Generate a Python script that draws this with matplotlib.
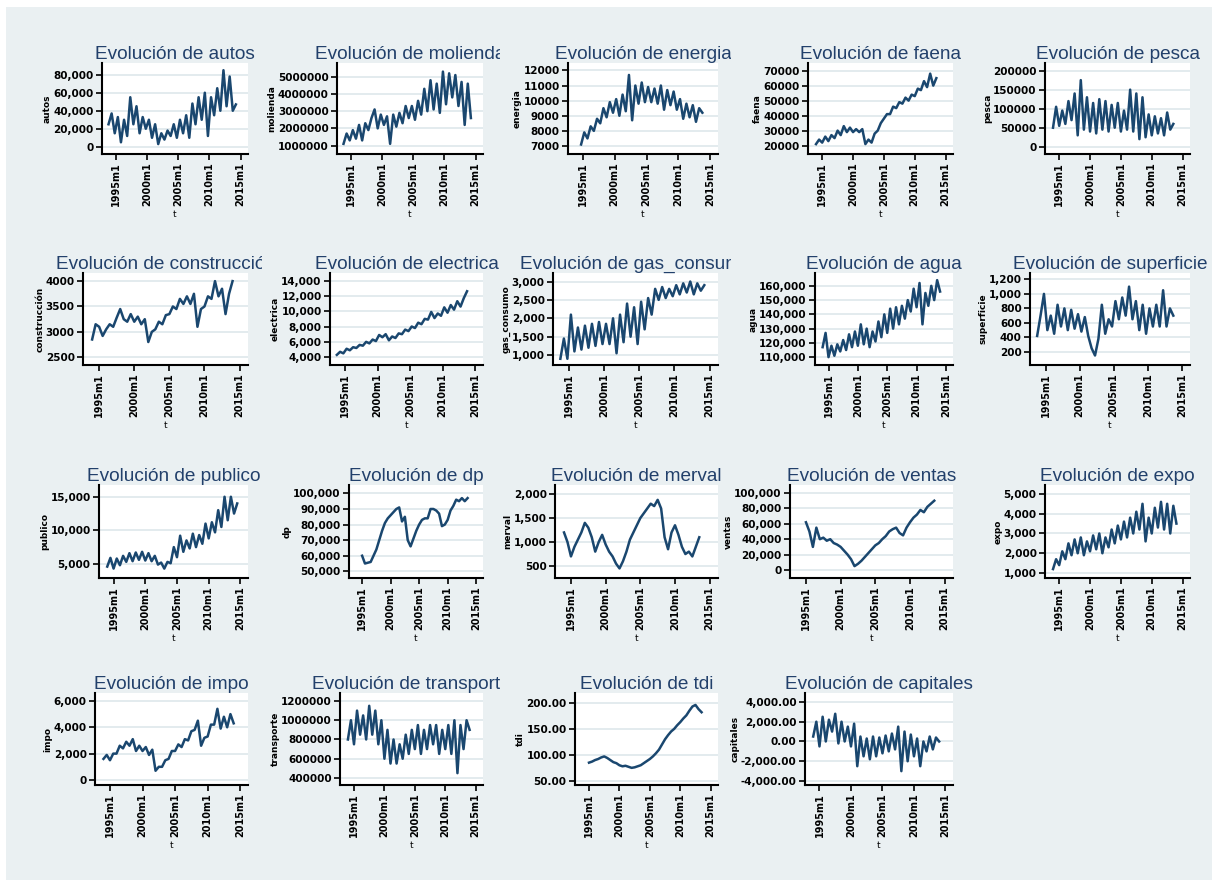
import numpy as np
import matplotlib
matplotlib.use("Agg")
import matplotlib.pyplot as plt
from matplotlib.patches import Rectangle
from matplotlib.transforms import Bbox, TransformedBbox
from matplotlib.ticker import FuncFormatter

# ---- data (two readings per year) ----
x_ticks = [1995, 2000, 2005, 2010, 2015]
x_tick_labels = ["1995m1", "2000m1", "2005m1", "2010m1", "2015m1"]

autos_start = 1993.75
autos = [25000, 37000, 15000, 33000, 5000, 30000, 12000, 55000, 25000, 45000, 15000, 33000,
         20000, 30000, 10000, 25000, 3000, 15000, 8000, 18000, 12000, 25000, 10000, 30000,
         15000, 35000, 10000, 48000, 25000, 55000, 30000, 60000, 12000, 55000, 35000, 65000,
         40000, 85000, 45000, 78000, 40000, 47000]

molienda_start = 1993.75
molienda = [1.1e6, 1.7e6, 1.3e6, 1.9e6, 1.4e6, 2.2e6, 1.3e6, 2.3e6, 1.9e6, 2.6e6, 3.1e6, 2.0e6,
            2.8e6, 2.2e6, 2.7e6, 1.1e6, 2.8e6, 2.1e6, 2.9e6, 2.3e6, 3.3e6, 2.6e6, 3.3e6, 2.5e6,
            3.6e6, 2.8e6, 4.3e6, 3.0e6, 4.8e6, 3.1e6, 4.6e6, 2.9e6, 5.3e6, 3.4e6, 5.2e6, 3.8e6,
            5.1e6, 3.3e6, 4.7e6, 2.2e6, 4.6e6, 2.6e6]

energia_start = 1994.75
energia = [7100, 7900, 7500, 8300, 8000, 8800, 8500, 9500, 8900, 9900, 9200, 10100, 9000,
           10400, 9300, 11700, 8700, 11000, 9800, 11200, 9900, 10900, 9900, 10800, 9800, 11000,
           9400, 10700, 9700, 10600, 9400, 10100, 8800, 9800, 8900, 9700, 8600, 9500, 9200]

faena_start = 1994.0
faena = [21000, 24000, 22000, 26000, 23000, 27000, 25000, 30000, 27000, 33000, 29000, 32000,
         29000, 31000, 29000, 31000, 21000, 24000, 22000, 28000, 30000, 35000, 38000, 41000,
         41000, 46000, 45000, 49000, 48000, 52000, 50000, 54000, 53000, 58000, 57000, 63000,
         59000, 68000, 60000, 65000]

pesca_start = 1994.0
pesca = [50000, 105000, 55000, 95000, 60000, 120000, 70000, 140000, 30000, 175000, 45000,
         130000, 40000, 115000, 35000, 125000, 45000, 120000, 40000, 110000, 50000, 115000,
         40000, 95000, 45000, 150000, 40000, 140000, 20000, 130000, 25000, 85000, 30000, 80000,
         35000, 75000, 30000, 90000, 45000, 60000]

construccion_start = 1994.0
construccion = [2850, 3150, 3100, 2920, 3050, 3150, 3100, 3280, 3450, 3250, 3200, 3350, 3200,
                3300, 3150, 3250, 2800, 3000, 3050, 3200, 3150, 3330, 3350, 3500, 3450, 3650,
                3550, 3700, 3550, 3750, 3100, 3450, 3500, 3700, 3650, 4000, 3700, 3850, 3350,
                3750, 4000]

electrica_start = 1993.75
electrica = [4300, 4700, 4500, 5100, 4900, 5300, 5200, 5600, 5500, 6000, 5800, 6300, 6100,
             6900, 6600, 7000, 6200, 6700, 6500, 7100, 7000, 7600, 7400, 8000, 7800, 8500,
             8300, 9000, 8900, 9900, 9100, 9700, 9400, 10500, 9800, 10800, 10200, 11300,
             10600, 11700, 12600]

gas_start = 1993.75
gas_consumo = [900, 1450, 900, 2100, 1100, 1750, 1150, 1800, 1200, 1850, 1250, 1900, 1300,
               1850, 1300, 2000, 1050, 2100, 1350, 2400, 1500, 2300, 1300, 2450, 1700, 2550,
               2100, 2800, 2500, 2850, 2550, 2800, 2600, 2900, 2650, 2950, 2700, 3000, 2650,
               2950, 2750, 2900]

agua_start = 1994.0
agua = [117000, 127000, 110000, 118000, 111000, 119000, 114000, 122000, 115000, 126000,
        117000, 128000, 118000, 133000, 119000, 130000, 117000, 128000, 121000, 135000,
        124000, 140000, 127000, 144000, 130000, 145000, 133000, 146000, 137000, 150000,
        142000, 158000, 145000, 162000, 133000, 155000, 146000, 160000, 150000, 164000, 156000]

superficie_start = 1993.75
superficie = [420, 700, 1000, 500, 700, 450, 850, 550, 800, 500, 780, 520, 720, 480, 680, 420,
              250, 150, 380, 850, 450, 650, 550, 900, 650, 950, 700, 1100, 650, 900, 500, 850,
              450, 800, 550, 850, 550, 1050, 550, 800, 700]

publico_start = 1994.0
publico = [4600, 5900, 4300, 5800, 4800, 6200, 5300, 6600, 5400, 6700, 5600, 6800, 5500, 6600,
           5400, 6200, 4900, 5200, 4300, 5300, 5100, 7500, 6000, 9200, 6800, 8500, 7300, 9500,
           7500, 9300, 8000, 11000, 8800, 11200, 9700, 13000, 10500, 15000, 11500, 15000,
           12500, 14000]

dp_start = 1995.0
dp = [60000, 55000, 55500, 56000, 60000, 64000, 70000, 76000, 81000, 84000, 86000, 88000,
      90000, 91000, 82000, 85000, 70000, 66000, 71000, 76000, 80000, 83000, 84000, 84000,
      90000, 90000, 89000, 87000, 79000, 80000, 83000, 89000, 92000, 96000, 95000, 97000,
      95000, 97000]

merval_start = 1994.0
merval = [1200, 1000, 700, 900, 1050, 1200, 1400, 1300, 1100, 800, 1000, 1150, 950, 800, 700,
          550, 450, 600, 800, 1050, 1200, 1350, 1500, 1600, 1700, 1800, 1750, 1880, 1700, 1100,
          850, 1200, 1350, 1150, 900, 750, 800, 700, 900, 1100]

ventas_start = 1995.0
ventas = [62000, 50000, 30000, 55000, 40000, 42000, 38000, 40000, 35000, 33000, 30000, 25000,
          20000, 14000, 5000, 8000, 12000, 17000, 22000, 27000, 32000, 35000, 40000, 44000,
          50000, 53000, 55000, 48000, 45000, 55000, 62000, 68000, 72000, 78000, 75000, 82000,
          86000, 90000]

expo_start = 1994.0
expo = [1200, 1700, 1400, 2100, 1700, 2500, 1900, 2700, 2000, 2800, 1900, 2600, 2100, 2900,
        2200, 3000, 2000, 2800, 2300, 3200, 2500, 3400, 2700, 3600, 2800, 3800, 3000, 4100,
        3200, 4500, 2600, 3800, 3000, 4300, 3300, 4600, 3200, 4500, 3000, 4400, 3500]

impo_start = 1994.0
impo = [1600, 1900, 1500, 2000, 2000, 2600, 2400, 2900, 2600, 3100, 2200, 2600, 2200, 2500,
        1900, 2300, 700, 1000, 1000, 1500, 1600, 2200, 2200, 2700, 2500, 3100, 3000, 3700,
        3800, 4500, 2600, 3200, 3300, 4200, 4200, 5400, 3900, 4800, 4000, 5000, 4300]

transporte_start = 1994.0
transporte = [800000, 1000000, 750000, 1100000, 850000, 1050000, 800000, 1150000, 850000,
              1100000, 750000, 1000000, 600000, 900000, 550000, 800000, 550000, 750000, 600000,
              850000, 650000, 900000, 700000, 950000, 650000, 900000, 700000, 950000, 750000,
              950000, 650000, 900000, 700000, 950000, 650000, 1000000, 450000, 950000, 700000,
              1000000, 900000]

tdi_start = 1995.0
tdi = [85, 87, 90, 92, 95, 97, 94, 90, 86, 84, 80, 78, 79, 77, 75, 76, 78, 80, 84, 88, 92, 97,
       103, 110, 120, 130, 138, 145, 150, 157, 163, 170, 176, 185, 193, 196, 188, 182]

capitales_start = 1994.0
capitales = [500, 2000, -500, 2500, 0, 2200, 1000, 2800, -200, 2000, 0, 1500, -500, 1800,
             -2500, 500, -1500, 300, -1800, 500, -1500, 400, -1200, 600, -1000, 800, -800, 1500,
             -3000, 1000, -2000, 700, -1500, 300, -2500, 0, -1000, 500, -800, 400, 0]

# ---- panels: name, ylabel, start, values, yticks, format ----
panels = [
    ("autos", "autos", autos_start, autos, [0, 20000, 40000, 60000, 80000], "comma"),
    ("molienda", "molienda", molienda_start, molienda, [1e6, 2e6, 3e6, 4e6, 5e6], "plain"),
    ("energia", "energia", energia_start, energia, [7000, 8000, 9000, 10000, 11000, 12000], "plain"),
    ("faena", "faena", faena_start, faena, [20000, 30000, 40000, 50000, 60000, 70000], "plain"),
    ("pesca", "pesca", pesca_start, pesca, [0, 50000, 100000, 150000, 200000], "plain"),
    ("construcción", "construcción", construccion_start, construccion, [2500, 3000, 3500, 4000], "plain"),
    ("electrica", "electrica", electrica_start, electrica, [4000, 6000, 8000, 10000, 12000, 14000], "comma"),
    ("gas_consumo", "gas_consumo", gas_start, gas_consumo, [1000, 1500, 2000, 2500, 3000], "comma"),
    ("agua", "agua", agua_start, agua, [110000, 120000, 130000, 140000, 150000, 160000], "comma"),
    ("superficie", "superficie", superficie_start, superficie, [200, 400, 600, 800, 1000, 1200], "comma"),
    ("publico", "publico", publico_start, publico, [5000, 10000, 15000], "comma"),
    ("dp", "dp", dp_start, dp, [50000, 60000, 70000, 80000, 90000, 100000], "comma"),
    ("merval", "merval", merval_start, merval, [500, 1000, 1500, 2000], "comma"),
    ("ventas", "ventas", ventas_start, ventas, [0, 20000, 40000, 60000, 80000, 100000], "comma"),
    ("expo", "expo", expo_start, expo, [1000, 2000, 3000, 4000, 5000], "comma"),
    ("impo", "impo", impo_start, impo, [0, 2000, 4000, 6000], "comma"),
    ("transporte", "transporte", transporte_start, transporte, [400000, 600000, 800000, 1000000, 1200000], "plain"),
    ("tdi", "tdi", tdi_start, tdi, [50, 100, 150, 200], "dec2"),
    ("capitales", "capitales", capitales_start, capitales, [-4000, -2000, 0, 2000, 4000], "comma2"),
]

# ---- layout (pixels): plot box left, right per panel, y limits ----
W, H = 1218, 888
row_y = [(63, 154), (273, 365), (485, 578), (693, 785)]
boxes_x = [(102, 248), (337, 483), (568, 718), (808, 953), (1045, 1190),
           (83, 248), (330, 483), (553, 718), (815, 953), (1030, 1190),
           (99, 248), (349, 483), (555, 718), (790, 953), (1045, 1190),
           (95, 248), (340, 483), (575, 718), (805, 953)]
ylims = [(-8000, 93000), (0.51e6, 5.8e6), (6470, 12490), (14400, 75100), (-19000, 220000),
         (2347, 4160), (2980, 14980), (731, 3231), (104500, 169000), (19, 1288),
         (2900, 16750), (45700, 105400), (250, 2190), (-10400, 110400), (750, 5450),
         (-380, 6600), (327000, 1283000), (42, 219), (-4400, 4900)]
title_clip = [262, 500, 731, 985, 1212]

NAVY = '#1a476f'
BG = '#eaf0f2'
GRID = '#e3ebee'

fmts = {
    "comma": lambda v, p: f"{v:,.0f}",
    "plain": lambda v, p: f"{v:.0f}",
    "dec2": lambda v, p: f"{v:.2f}",
    "comma2": lambda v, p: f"{v:,.2f}",
}

plt.rcParams['font.family'] = ['DejaVu Sans']
fig = plt.figure(figsize=(W / 100, H / 100), dpi=100, facecolor='white')
fig.patches.append(Rectangle((6 / W, 8 / H), (1212 - 6) / W, (880 - 7) / H,
                             transform=fig.transFigure, facecolor=BG, edgecolor='none', zorder=-5))

for i, (name, ylab, start, vals, yt, fmt) in enumerate(panels):
    row, col = divmod(i, 5)
    top, bot = row_y[row]
    left, right = boxes_x[i]
    ax = fig.add_axes([left / W, (H - bot) / H, (right - left) / W, (bot - top) / H])
    ax.set_facecolor('white')
    t = start + 0.5 * np.arange(len(vals))
    ax.plot(t, vals, color=NAVY, lw=1.8)
    ax.set_xlim(1992.7, 2016.2)
    ax.set_ylim(*ylims[i])
    ax.set_xticks(x_ticks)
    ax.set_xticklabels(x_tick_labels, rotation=90, fontsize=7, fontweight='bold')
    ax.set_yticks(yt)
    ax.yaxis.set_major_formatter(FuncFormatter(fmts[fmt]))
    for lab in ax.get_yticklabels():
        lab.set_fontweight('bold')
    ax.tick_params(axis='x', direction='out', length=4, width=1.2, labelsize=7, pad=2)
    ax.tick_params(axis='y', direction='out', length=4, width=1.2, labelsize=7.5, pad=2)
    ax.yaxis.grid(True, color=GRID, lw=1.4)
    ax.set_axisbelow(True)
    for s in ['top', 'right']:
        ax.spines[s].set_visible(False)
    for s in ['left', 'bottom']:
        ax.spines[s].set_linewidth(1.5)
    ax.set_ylabel(ylab, fontsize=6.5, fontweight='bold', labelpad=1)
    ax.set_xlabel("t", fontsize=6.5, labelpad=3)
    title = ax.set_title("Evolución de " + name, fontsize=13.7, family='Liberation Sans',
                         color='#22406b', pad=3)
    clip = TransformedBbox(Bbox.from_extents(0, 0, title_clip[col] / W, 1), fig.transFigure)
    title.set_clip_box(clip)
    title.set_clip_on(True)

fig.savefig("out.png", dpi=100, facecolor='white')
